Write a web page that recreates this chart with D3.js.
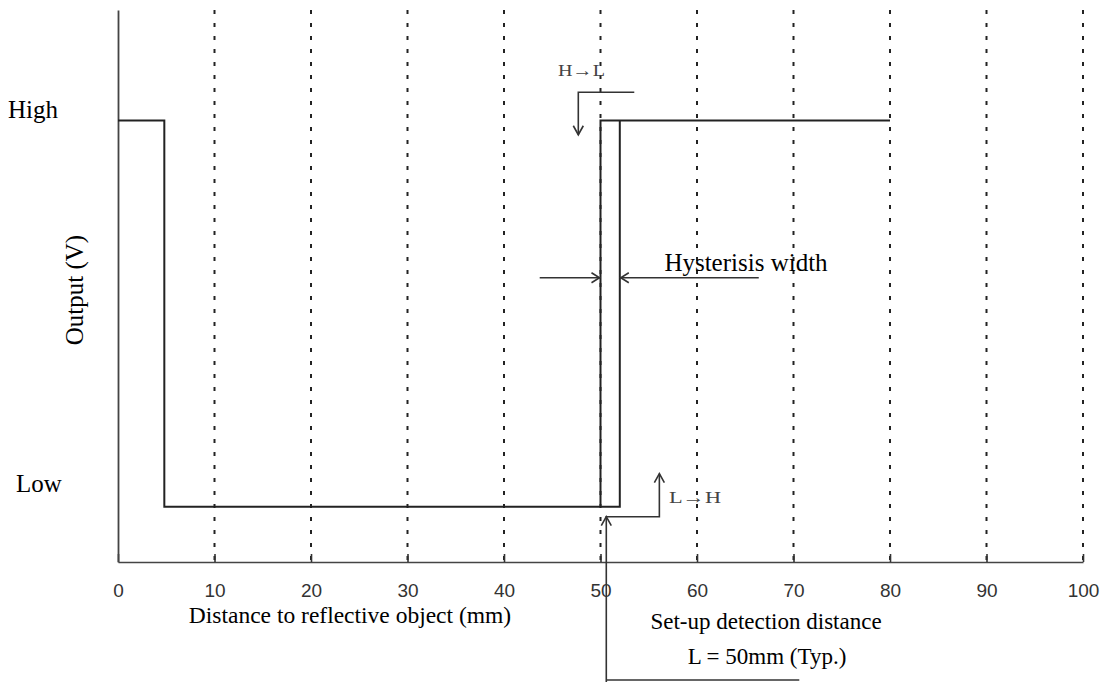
<!DOCTYPE html>
<html>
<head>
<meta charset="utf-8">
<script src="https://cdn.jsdelivr.net/npm/d3@7"></script>
<style>
html,body{margin:0;padding:0;background:#fff;}
svg{display:block;}
</style>
</head>
<body>
<svg id="chart" width="1110" height="682"></svg>
<script>
// ---- data ----
const xTicks = [0, 10, 20, 30, 40, 50, 60, 70, 80, 90, 100];
const gridX = [10, 20, 30, 40, 50, 60, 70, 80, 90, 100];
const levelNames = ["High", "Low"];
const levelValues = [8, 1];
// output trace when the object approaches / recedes
const traceA_x = [0, 4.8, 4.8, 52, 52];
const traceA_y = [8, 8, 1, 1, 8];
const traceB_x = [50, 50, 80];
const traceB_y = [1, 8, 8];
const setupDistance = 50;
const hystLow = 50, hystHigh = 52;

const svg = d3.select("#chart");
const W = 1110, H = 682;
const margin = {left: 118, right: 27, top: 10, bottom: 120};
const x = d3.scaleLinear().domain([0, 100]).range([margin.left, W - margin.right]);
const y = d3.scaleLinear().domain([0, 10]).range([H - margin.bottom, margin.top]);

const serif = "'Liberation Serif','Times New Roman',serif";
const sans = "'Liberation Sans',Arial,sans-serif";

// dotted grid lines
svg.append("g").selectAll("line").data(gridX).join("line")
  .attr("x1", d => x(d)).attr("x2", d => x(d))
  .attr("y1", y(10)).attr("y2", y(0))
  .attr("stroke", "#222").attr("stroke-width", 2)
  .attr("stroke-dasharray", "4,9");

// x axis
const xAxis = d3.axisBottom(x).tickValues(xTicks).tickSizeInner(-8).tickSizeOuter(0).tickPadding(29);
const gx = svg.append("g").attr("transform", `translate(0,${y(0)})`).call(xAxis);
gx.select(".domain").attr("stroke", "#444").attr("stroke-width", 1.6);
gx.selectAll(".tick line").attr("stroke", "#333").attr("stroke-width", 1.6);
gx.selectAll(".tick text").attr("font-family", sans).attr("font-size", 19)
  .attr("fill", "#333").attr("dy", "0.3em");

// y axis
const yAxis = d3.axisLeft(y).tickValues([]).tickSizeOuter(0);
const gy = svg.append("g").attr("transform", `translate(${x(0)},0)`).call(yAxis);
gy.select(".domain").attr("stroke", "#444").attr("stroke-width", 1.8);

// level labels
svg.append("g").selectAll("text").data(levelNames).join("text")
  .attr("x", (d, i) => i === 0 ? 8 : 16)
  .attr("y", (d, i) => y(levelValues[i]) - (i === 0 ? 2 : 15))
  .attr("font-family", serif).attr("font-size", 25).attr("fill", "#000")
  .text(d => d);

// traces
const line = d3.line().x(d => x(d[0])).y(d => y(d[1]));
svg.append("path").datum(traceA_x.map((v, i) => [v, traceA_y[i]]))
  .attr("d", line).attr("fill", "none").attr("stroke", "#222").attr("stroke-width", 2);
svg.append("path").datum(traceB_x.map((v, i) => [v, traceB_y[i]]))
  .attr("d", line).attr("fill", "none").attr("stroke", "#222").attr("stroke-width", 2);

// axis titles
svg.append("text").attr("transform", `translate(83,${(y(0) + y(10)) / 2 + 4}) rotate(-90)`)
  .attr("text-anchor", "middle").attr("font-family", serif).attr("font-size", 25)
  .text("Output (V)");
svg.append("text").attr("x", 350).attr("y", 623).attr("text-anchor", "middle")
  .attr("font-family", serif).attr("font-size", 23.5)
  .text("Distance to reflective object (mm)");
svg.append("text").attr("x", 766).attr("y", 629).attr("text-anchor", "middle")
  .attr("font-family", serif).attr("font-size", 23)
  .text("Set-up detection distance");
svg.append("text").attr("x", 767).attr("y", 664).attr("text-anchor", "middle")
  .attr("font-family", serif).attr("font-size", 23)
  .text("L = 50mm (Typ.)");

// hysteresis annotation
const hy = y(5.15);
const ann = svg.append("g").attr("fill", "none").attr("stroke", "#333").attr("stroke-width", 1.6);
ann.append("line").attr("x1", x(43.7)).attr("x2", x(hystLow)).attr("y1", hy).attr("y2", hy);
ann.append("path").attr("d", `M${x(hystLow) - 9},${hy - 5}L${x(hystLow) - 1},${hy}L${x(hystLow) - 9},${hy + 5}`);
ann.append("line").attr("x1", x(66.4)).attr("x2", x(hystHigh)).attr("y1", hy).attr("y2", hy);
ann.append("path").attr("d", `M${x(hystHigh) + 9},${hy - 5}L${x(hystHigh) + 1},${hy}L${x(hystHigh) + 9},${hy + 5}`);
svg.append("text").attr("x", 746).attr("y", 271).attr("text-anchor", "middle")
  .attr("font-family", serif).attr("font-size", 25)
  .text("Hysterisis width");

// H -> L bent arrow
const hlY = y(8.51), hlX = x(47.7);
ann.append("path").attr("d", `M${x(53.5)},${hlY}H${hlX}V${y(7.74)}`);
ann.append("path").attr("d", `M${hlX - 5},${y(7.74) - 9}L${hlX},${y(7.74)}L${hlX + 5},${y(7.74) - 9}`);
svg.append("text").attr("x", 558).attr("y", 76).attr("font-family", serif)
  .attr("font-size", 17).attr("fill", "#444")
  .attr("textLength", 47).attr("lengthAdjust", "spacingAndGlyphs").text("H\u2192L");

// L -> H bent arrow
const lhX1 = x(50.6), lhX2 = x(56.1), lhY = y(0.82);
ann.append("path").attr("d", `M${lhX1},${H}V${lhY}H${lhX2}V${y(1.6)}`);
ann.append("path").attr("d", `M${lhX1 - 5},${lhY + 9}L${lhX1},${lhY}L${lhX1 + 5},${lhY + 9}`);
ann.append("path").attr("d", `M${lhX2 - 5},${y(1.6) + 9}L${lhX2},${y(1.6)}L${lhX2 + 5},${y(1.6) + 9}`);
ann.append("line").attr("x1", lhX1).attr("x2", x(70.6)).attr("y1", H - 2).attr("y2", H - 2);
svg.append("text").attr("x", 669).attr("y", 503).attr("font-family", serif)
  .attr("font-size", 17).attr("fill", "#444")
  .attr("textLength", 52).attr("lengthAdjust", "spacingAndGlyphs").text("L\u2192H");
</script>
</body>
</html>
